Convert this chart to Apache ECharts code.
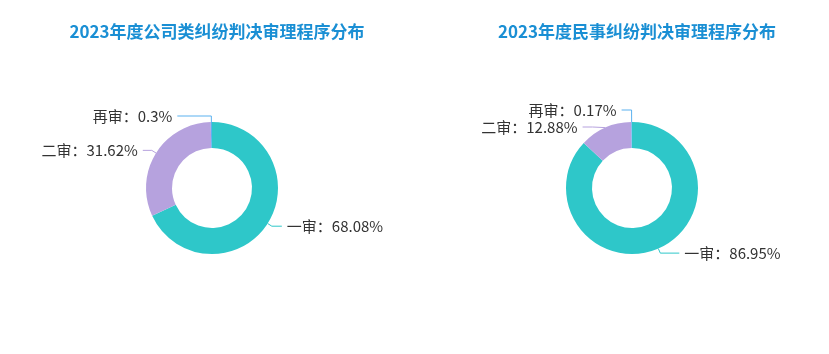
<!DOCTYPE html>
<html>
<head>
<meta charset="utf-8">
<script src="https://cdn.jsdelivr.net/npm/echarts@6/dist/echarts.min.js"></script>
<style>
  html, body { margin: 0; padding: 0; background: #fff; }
  #chart { width: 829px; height: 354px; }
</style>
</head>
<body>
<div id="chart"></div>
<script>
const titles = ['2023年度公司类纠纷判决审理程序分布', '2023年度民事纠纷判决审理程序分布']
const categories = ['一审', '二审', '再审']
const companyValues = [68.08, 31.62, 0.3]
const civilValues = [86.95, 12.88, 0.17]
const colors = ['#2ec7c9', '#b6a2de', '#5ab1ef']

// label line [length, length2] per slice, tuned to the reference
const companyLines = [[5, 10], [5, 9], [6, 34]]
const civilLines = [[5, 19], [5, 10], [12, 10]]

const chart = echarts.init(document.getElementById('chart'))

const pieSeries = (center, values, lines) => ({
  type: 'pie',
  center: center,
  radius: [40, 66],
  startAngle: 90,
  avoidLabelOverlap: true,
  label: {
    formatter: '{b}：{c}%',
    fontSize: 15,
    color: '#333',
    fontFamily: 'Noto Sans CJK SC'
  },
  emphasis: { scale: false },
  data: categories.map((name, i) => ({
    name,
    value: values[i],
    labelLine: { length: lines[i][0], length2: lines[i][1] }
  }))
})

const titleStyle = { color: '#1a8fd4', fontSize: 17, fontWeight: 'bold', fontFamily: 'Noto Sans CJK SC' }

chart.setOption({
  color: colors,
  title: [
    { text: titles[0], left: 212, top: 18, textAlign: 'center', textStyle: titleStyle },
    { text: titles[1], left: 632, top: 18, textAlign: 'center', textStyle: titleStyle }
  ],
  series: [
    pieSeries([212, 188], companyValues, companyLines),
    pieSeries([632, 188], civilValues, civilLines)
  ]
})

window.addEventListener('resize', function() {
  chart.resize()
})
</script>
</body>
</html>
